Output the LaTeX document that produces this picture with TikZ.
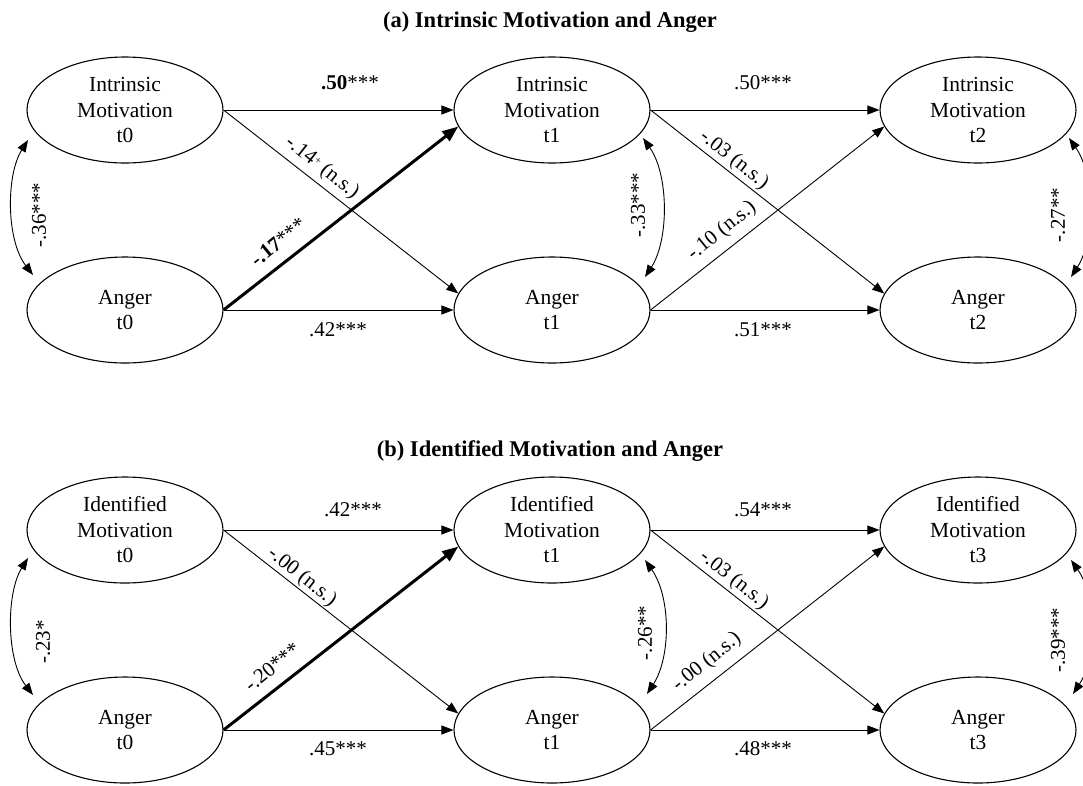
\documentclass[tikz,border=0pt]{standalone}
\usepackage{fontspec}
\setmainfont{Liberation Serif}
\usetikzlibrary{arrows.meta,shapes.geometric}

\begin{document}
\begin{tikzpicture}[x=1pt,y=-1pt,
  latent/.style={draw,ellipse,line width=1.1pt,minimum width=196pt,minimum height=106pt,
    inner sep=0pt,align=center,font=\fontsize{21.5}{25.5}\selectfont},
  reg/.style={-{Triangle[length=12pt,width=9pt]},line width=0.9pt},
  strong/.style={-{Triangle[length=16pt,width=12pt]},line width=3pt},
  cov/.style={{Triangle[length=12pt,width=9pt]}-{Triangle[length=12pt,width=9pt]},line width=0.9pt},
  coef/.style={inner sep=0pt,font=\fontsize{21}{25}\selectfont},
  heading/.style={inner sep=0pt,font=\fontsize{22.5}{26}\selectfont\bfseries}
]
\useasboundingbox (0,0) rectangle (1083,785);
\newcommand{\plusmark}{\raisebox{5pt}{\fontsize{11}{11}\selectfont+}}

% ---------------- Panel (a) ----------------
\node[heading] (ta) at (550,22) {(a) Intrinsic Motivation and Anger};

\node[latent] (im0) at (125,110) {Intrinsic\\Motivation\\t0};
\node[latent] (im1) at (552,110) {Intrinsic\\Motivation\\t1};
\node[latent] (im2) at (978,110) {Intrinsic\\Motivation\\t2};
\node[latent] (ag0) at (125,310) {Anger\\t0};
\node[latent] (ag1) at (552,310) {Anger\\t1};
\node[latent] (ag2) at (978,310) {Anger\\t2};

\draw[reg] (im0) -- (im1);
\draw[reg] (ag0) -- (ag1);
\draw[reg] (im1) -- (im2);
\draw[reg] (ag1) -- (ag2);
\draw[reg] (im0.east) -- (ag1.170);
\draw[strong] (ag0.east) -- (im1.190);
\draw[reg] (im1.east) -- (ag2.170);
\draw[reg] (ag1.east) -- (im2.190);

\draw[cov] ([shift={(-97,30)}]im0.center) .. controls +(-22,35) and +(-27,-35) .. ([shift={(-92,-35)}]ag0.center);
\draw[cov] ([shift={(91,28)}]im1.center) .. controls +(26,37) and +(24,-37) .. ([shift={(93,-33)}]ag1.center);
\draw[cov] ([shift={(91,28)}]im2.center) .. controls +(26,37) and +(24,-37) .. ([shift={(93,-33)}]ag2.center);

\node[coef] (a1) at (350,83) {\textbf{.50}***};
\node[coef] (a2) at (338,330) {.42***};
\node[coef,rotate=-38.5] (a3) at (322,168) {-.14\plusmark\ (n.s.)};
\node[coef,rotate=39] (a4) at (278,242) {\textbf{-.17}***};
\node[coef,rotate=90] (a5) at (39,215) {-.36***};
\node[coef] (a6) at (763,83) {.50***};
\node[coef] (a7) at (763,330) {.51***};
\node[coef,rotate=-38.5] (a8) at (734,160) {-.03 (n.s.)};
\node[coef,rotate=39] (a9) at (722,231) {-.10 (n.s.)};
\node[coef,rotate=90] (a10) at (638,205) {-.33***};
\node[coef,rotate=90] (a11) at (1058,215) {-.27**};

% ---------------- Panel (b) ----------------
\node[heading] (tb) at (550,451) {(b) Identified Motivation and Anger};

\node[latent] (id0) at (125,530) {Identified\\Motivation\\t0};
\node[latent] (id1) at (552,530) {Identified\\Motivation\\t1};
\node[latent] (id3) at (978,530) {Identified\\Motivation\\t3};
\node[latent] (bg0) at (125,730) {Anger\\t0};
\node[latent] (bg1) at (552,730) {Anger\\t1};
\node[latent] (bg3) at (978,730) {Anger\\t3};

\draw[reg] (id0) -- (id1);
\draw[reg] (bg0) -- (bg1);
\draw[reg] (id1) -- (id3);
\draw[reg] (bg1) -- (bg3);
\draw[reg] (id0.east) -- (bg1.170);
\draw[strong] (bg0.east) -- (id1.190);
\draw[reg] (id1.east) -- (bg3.170);
\draw[reg] (bg1.east) -- (id3.190);

\draw[cov] ([shift={(-97,28)}]id0.center) .. controls +(-22,35) and +(-27,-35) .. ([shift={(-92,-35)}]bg0.center);
\draw[cov] ([shift={(93,30)}]id1.center) .. controls +(26,37) and +(24,-37) .. ([shift={(95,-36)}]bg1.center);
\draw[cov] ([shift={(93,30)}]id3.center) .. controls +(26,37) and +(24,-37) .. ([shift={(95,-36)}]bg3.center);

\node[coef] (b1) at (353,510) {.42***};
\node[coef] (b2) at (338,749) {.45***};
\node[coef,rotate=-38.5] (b3) at (302,577) {-.00 (n.s.)};
\node[coef,rotate=39] (b4) at (272,667) {-.20***};
\node[coef,rotate=90] (b5) at (43,642) {-.23*};
\node[coef] (b6) at (763,510) {.54***};
\node[coef] (b7) at (763,749) {.48***};
\node[coef,rotate=-38.5] (b8) at (734,580) {-.03 (n.s.)};
\node[coef,rotate=39] (b9) at (707,662) {-.00 (n.s.)};
\node[coef,rotate=90] (b10) at (645,633) {-.26**};
\node[coef,rotate=90] (b11) at (1058,640) {-.39***};
\end{tikzpicture}
\end{document}
